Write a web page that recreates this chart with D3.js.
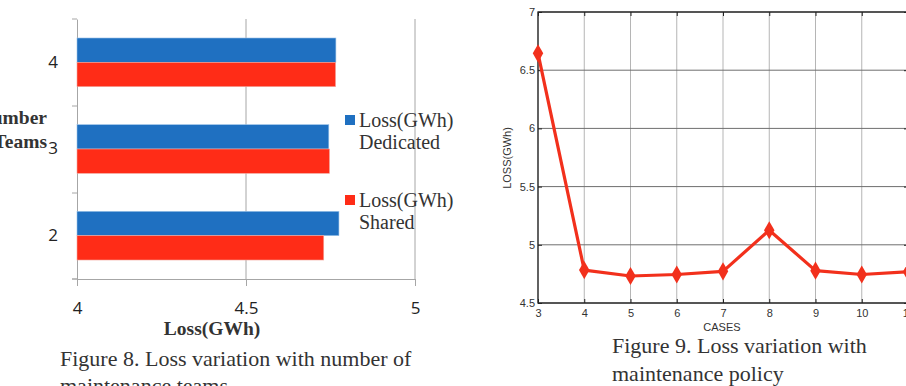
<!DOCTYPE html>
<html><head><meta charset="utf-8">
<script src="https://cdn.jsdelivr.net/npm/d3@7"></script>
<style>body{margin:0;background:#fff}svg{display:block}</style>
</head><body>
<svg id="c" width="906" height="386"></svg>
<script>
// Figure 8 data
const teams = ["4", "3", "2"];
const lossDedicated = [4.766, 4.745, 4.775];
const lossShared = [4.765, 4.747, 4.730];
const barTicks = [4, 4.5, 5];
// Figure 9 data
const cases = [3, 4, 5, 6, 7, 8, 9, 10, 11];
const caseLoss = [6.645, 4.783, 4.732, 4.745, 4.772, 5.125, 4.778, 4.745, 4.768];
const lineXTicks = [3, 4, 5, 6, 7, 8, 9, 10, 11];
const lineYTicks = [4.5, 5, 5.5, 6, 6.5, 7];

const svg = d3.select("#c");
const BLUE = "#1f70c1", RED = "#ff2c17";
const serif = "'Liberation Serif','Times New Roman',serif";
const sans = "'Open Sans','Liberation Sans',Arial,sans-serif";
const msans = "'Liberation Sans',Arial,sans-serif";

// ---------- Figure 8 ----------
const x1 = d3.scaleLinear().domain([4, 5]).range([77, 415]);
const y1 = d3.scaleBand().domain(teams).range([19, 279]);
const inner = d3.scaleBand().domain(["d", "s"]).range([0, y1.bandwidth()]).paddingOuter(0.78).paddingInner(0);
const g1 = svg.append("g");
// gridlines
g1.selectAll("line.gx").data(barTicks.slice(1)).join("line")
  .attr("x1", d => x1(d)).attr("x2", d => x1(d)).attr("y1", 19).attr("y2", 279)
  .attr("stroke", "#a6a6a6").attr("stroke-width", 1);
// x axis
const ax1 = g1.append("g").attr("transform", "translate(0,279)")
  .call(d3.axisBottom(x1).tickValues(barTicks).tickSize(7).tickSizeOuter(0).tickFormat(d3.format("")));
ax1.select(".domain").attr("stroke", "#a6a6a6");
ax1.selectAll(".tick line").attr("stroke", "#a6a6a6");
ax1.selectAll("text").attr("font-family", sans).attr("font-size", 17).attr("fill", "#222").attr("dy", "1.45em");
g1.append("line").attr("x1", 72).attr("x2", 77).attr("y1", 279).attr("y2", 279).attr("stroke", "#a6a6a6");
// y axis
const ay1 = g1.append("g").attr("transform", "translate(77,0)")
  .call(d3.axisLeft(y1).tickSize(0).tickPadding(19));
ay1.select(".domain").attr("stroke", "#a6a6a6");
ay1.selectAll("text").attr("font-family", sans).attr("font-size", 17).attr("fill", "#222");
g1.selectAll("line.ty").data([19, 106, 193, 279]).join("line")
  .attr("x1", 72).attr("x2", 77).attr("y1", d => d).attr("y2", d => d)
  .attr("stroke", "#a6a6a6");
// bars
const rows = teams.map((t, i) => ({ t, d: lossDedicated[i], s: lossShared[i] }));
g1.selectAll("rect.bd").data(rows).join("rect")
  .attr("x", x1(4)).attr("y", r => y1(r.t) + inner("d"))
  .attr("width", r => x1(r.d) - x1(4)).attr("height", inner.bandwidth())
  .attr("fill", BLUE).attr("stroke", "#9cc3e8").attr("stroke-width", 0.6);
g1.selectAll("rect.bs").data(rows).join("rect")
  .attr("x", x1(4)).attr("y", r => y1(r.t) + inner("s"))
  .attr("width", r => x1(r.s) - x1(4)).attr("height", inner.bandwidth())
  .attr("fill", RED).attr("stroke", "#f2a79e").attr("stroke-width", 0.6);
// axis titles
g1.append("text").attr("x", 212).attr("y", 335).attr("text-anchor", "middle")
  .attr("font-family", serif).attr("font-weight", "bold").attr("font-size", 19.5).attr("fill", "#333").text("Loss(GWh)");
g1.append("text").attr("x", 47).attr("y", 124).attr("text-anchor", "end")
  .attr("font-family", serif).attr("font-weight", "bold").attr("font-size", 19.5).attr("fill", "#333").text("Number");
g1.append("text").attr("x", 47).attr("y", 148).attr("text-anchor", "end")
  .attr("font-family", serif).attr("font-weight", "bold").attr("font-size", 19.5).attr("fill", "#333").text("of Teams");
// legend
const leg = [{ c: BLUE, a: "Loss(GWh)", b: "Dedicated", y: 115 }, { c: RED, a: "Loss(GWh)", b: "Shared", y: 195 }];
leg.forEach(l => {
  g1.append("rect").attr("x", 345).attr("y", l.y).attr("width", 10).attr("height", 10).attr("fill", l.c);
  g1.append("text").attr("x", 359).attr("y", l.y + 12).attr("font-family", serif).attr("font-size", 20).attr("fill", "#333").text(l.a);
  g1.append("text").attr("x", 359).attr("y", l.y + 34).attr("font-family", serif).attr("font-size", 20).attr("fill", "#333").text(l.b);
});
// caption
g1.append("text").attr("x", 60).attr("y", 366).attr("font-family", serif).attr("font-size", 22).attr("fill", "#333")
  .text("Figure 8. Loss variation with number of");
g1.append("text").attr("x", 60).attr("y", 393).attr("font-family", serif).attr("font-size", 22).attr("fill", "#333")
  .text("maintenance teams");

// ---------- Figure 9 ----------
const x2 = d3.scaleLinear().domain([3, 11]).range([538, 908]);
const y2 = d3.scaleLinear().domain([4.5, 7]).range([303, 12]);
const g2 = svg.append("g");
g2.selectAll("line.vx").data(lineXTicks).join("line")
  .attr("x1", d => x2(d)).attr("x2", d => x2(d)).attr("y1", 12).attr("y2", 303)
  .attr("stroke", "#b5b5b5").attr("stroke-width", 1);
g2.selectAll("line.hy").data(lineYTicks).join("line")
  .attr("x1", 538).attr("x2", 908).attr("y1", d => y2(d)).attr("y2", d => y2(d))
  .attr("stroke", "#6e6e6e").attr("stroke-width", 1);
// box
g2.append("rect").attr("x", 538).attr("y", 12).attr("width", 370).attr("height", 291)
  .attr("fill", "none").attr("stroke", "#222").attr("stroke-width", 1.3);
// axes with inward ticks
const ax2 = g2.append("g").attr("transform", "translate(0,303)")
  .call(d3.axisBottom(x2).tickValues(lineXTicks).tickSize(-4).tickPadding(6));
ax2.select(".domain").remove();
ax2.selectAll(".tick line").attr("stroke", "#222");
ax2.selectAll("text").attr("font-family", msans).attr("font-size", 11).attr("fill", "#333");
const axT = g2.append("g").attr("transform", "translate(0,12)")
  .call(d3.axisTop(x2).tickValues(lineXTicks).tickSize(-4).tickFormat(""));
axT.select(".domain").remove();
axT.selectAll(".tick line").attr("stroke", "#222");
const ay2 = g2.append("g").attr("transform", "translate(538,0)")
  .call(d3.axisLeft(y2).tickValues(lineYTicks).tickSize(-4).tickPadding(3).tickFormat(d3.format("")));
ay2.select(".domain").remove();
ay2.selectAll(".tick line").attr("stroke", "#222");
ay2.selectAll("text").attr("font-family", msans).attr("font-size", 11).attr("fill", "#333");
const ayR = g2.append("g").attr("transform", "translate(908,0)")
  .call(d3.axisRight(y2).tickValues(lineYTicks).tickSize(-4).tickFormat(""));
ayR.select(".domain").remove();
ayR.selectAll(".tick line").attr("stroke", "#222");
// line
const pts = cases.map((c, i) => [c, caseLoss[i]]);
g2.append("path").datum(pts)
  .attr("d", d3.line().x(d => x2(d[0])).y(d => y2(d[1])))
  .attr("fill", "none").attr("stroke", "#f2301c").attr("stroke-width", 3.2).attr("stroke-linejoin", "round");
g2.selectAll("path.mk").data(pts).join("path")
  .attr("transform", d => `translate(${x2(d[0])},${y2(d[1])})`)
  .attr("d", d3.symbol(d3.symbolDiamond, 95))
  .attr("fill", "#f2301c");
// labels
g2.append("text").attr("x", 722).attr("y", 331).attr("text-anchor", "middle")
  .attr("font-family", msans).attr("font-size", 11).attr("fill", "#333").text("CASES");
g2.append("text").attr("transform", "translate(511,158) rotate(-90)").attr("text-anchor", "middle")
  .attr("font-family", msans).attr("font-size", 11).attr("fill", "#333").text("LOSS(GWh)");
g2.append("text").attr("x", 612).attr("y", 353).attr("font-family", serif).attr("font-size", 22).attr("fill", "#333")
  .text("Figure 9. Loss variation with");
g2.append("text").attr("x", 612).attr("y", 381).attr("font-family", serif).attr("font-size", 22).attr("fill", "#333")
  .text("maintenance policy");
</script>
</body></html>
